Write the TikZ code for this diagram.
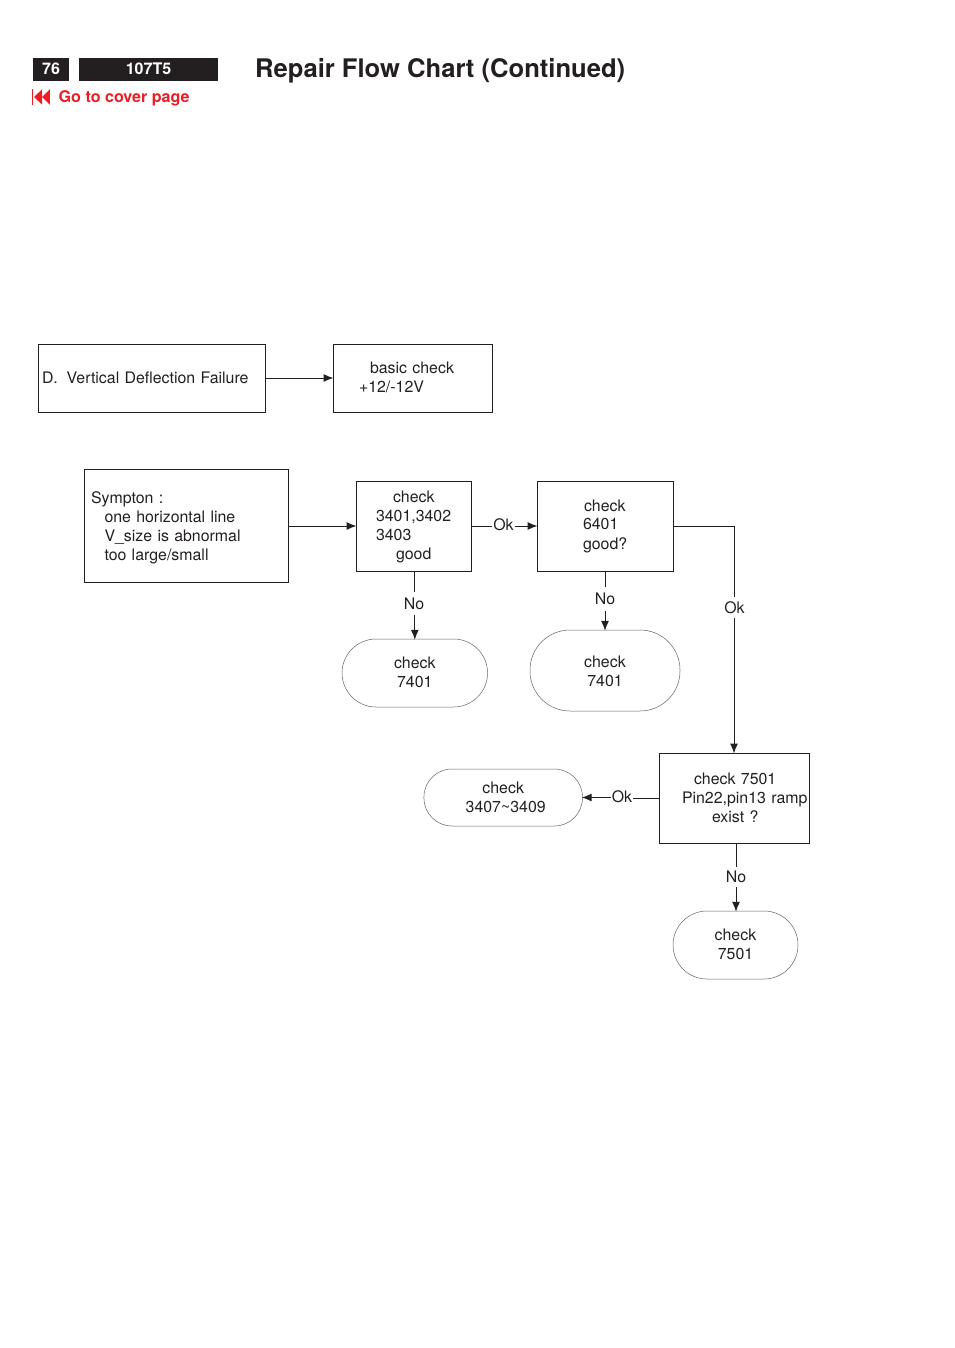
\documentclass[tikz,border=0pt]{standalone}
\usepackage{fontspec}
\setmainfont{TeX Gyre Heros}
\usetikzlibrary{arrows.meta}
\definecolor{ink}{HTML}{231F20}
\definecolor{linkred}{HTML}{ED1C24}
\newcommand{\ind}[1]{\hspace*{#1pt}}
\newcommand{\tallfirst}[1]{\rule{0pt}{#1pt}}
\newcommand{\deeplast}[1]{\rule[-#1pt]{0pt}{#1pt}}
\tikzset{
  flowtext/.style={font=\fontsize{15.9}{19}\selectfont, text=ink},
  boxnode/.style={flowtext, draw=ink, line width=1pt, rectangle, inner sep=0pt, align=left},
  pillnode/.style={flowtext, draw=ink!70, line width=0.5pt, rectangle, inner sep=0pt, align=center},
  edgelabel/.style={flowtext, inner sep=0pt, minimum width=22pt},
  link/.style={draw=ink, line width=1pt},
  arrowlink/.style={link, -{Latex[length=10pt,width=8pt]}, shorten >=-1pt},
  headbar/.style={fill=ink, draw=none, text=white, inner sep=0pt, font=\fontsize{16}{18}\bfseries\selectfont, minimum height=23pt, text height=10pt, text depth=0pt},
}
\begin{document}
\begin{tikzpicture}[x=1pt,y=-1pt]
\useasboundingbox (0,0) rectangle (954,1348);
% header
\node[headbar, minimum width=36pt] (page) at (51,69.5) {76};
\node[headbar, minimum width=139pt] (model) at (148.5,69.5) {107T5};
\node[anchor=base west, inner sep=0pt, text=ink, font=\fontsize{25.6}{30}\bfseries\selectfont] (title) at (255,78) {Repair Flow Chart (Continued)};
\fill[linkred] (31.6,89) rectangle (33.2,105);
\fill[linkred] (34.2,97) -- (42,89.3) -- (42,104.7) -- cycle;
\fill[linkred] (42,97) -- (49.8,89.3) -- (49.8,104.7) -- cycle;
\node[anchor=base west, inner sep=0pt, text=linkred, font=\fontsize{16.1}{19}\bfseries\selectfont] (cover) at (58.5,103) {Go to cover page};
% row 1
\node[boxnode, text width=227pt, minimum height=68pt] (fail) at (151.5,378) {\ind{4}D.\hspace*{8.8pt}Vertical Deflection Failure};
\node[boxnode, text width=159pt, minimum height=68pt] (basic) at (412.5,378) {\ind{37}basic check\\\ind{26}+12/-12V\deeplast{2}};
% row 2
\node[boxnode, text width=204pt, minimum height=113pt] (symp) at (186,525.5) {\tallfirst{16.8}\ind{7}Sympton :\\\ind{20.5}one horizontal line\\\ind{20.5}V\_size is abnormal\\\ind{20.5}too large/small};
\node[boxnode, text width=115pt, minimum height=90pt] (chkA) at (413.5,526) {\tallfirst{13.5}\ind{37}check\\\ind{20}3401,3402\\\ind{20}3403\\\ind{40}good};
\node[boxnode, text width=136pt, minimum height=90pt] (chkB) at (605,526) {\ind{47}check\\[-1pt]\ind{46}6401\\[1pt]\ind{46}good?};
\node[pillnode, minimum width=145.5pt, minimum height=68pt, rounded corners=34pt] (pillA) at (414.8,673) {check\\7401\deeplast{2}};
\node[pillnode, minimum width=150pt, minimum height=81pt, rounded corners=40pt] (pillB) at (605,670.5) {\tallfirst{13.6}check\\7401};
% row 3
\node[boxnode, text width=150pt, minimum height=90pt] (chkC) at (734,798) {\ind{35}check 7501\\\ind{23}\mbox{Pin22,pin13 ramp}\\\ind{53}exist ?};
\node[pillnode, minimum width=158.5pt, minimum height=57pt, rounded corners=28pt] (pillC) at (503.2,797.5) {check\\\hspace*{5pt}3407\textasciitilde 3409};
\node[pillnode, minimum width=125pt, minimum height=68pt, rounded corners=34pt] (pillD) at (735.5,945) {check\\7501\deeplast{2}};
% edge labels
\node[edgelabel, minimum height=23pt] (noA) at (414,603.5) {No};
\node[edgelabel, minimum height=24pt] (noB) at (605,599) {No};
\node[edgelabel, minimum height=20pt] (noC) at (736,877) {No};
\node[edgelabel, minimum height=18pt] (okA) at (503.5,525) {Ok};
\node[edgelabel, minimum height=20pt] (okB) at (734.5,607.5) {Ok};
\node[edgelabel, minimum height=18pt] (okC) at (622,797) {Ok};
% connectors
\draw[arrowlink] (fail.east) -- (basic.west);
\draw[arrowlink] (symp.east |- chkA.west) -- (chkA.west);
\draw[link] (chkA.east) -- (chkA.east -| okA.west);
\draw[arrowlink] (chkB.west -| okA.east) -- (chkB.west);
\draw[link] (chkA.south -| noA) -- (noA.north);
\draw[arrowlink] (noA.south -| pillA.north) -- (pillA.north);
\draw[link] (noB.north |- chkB.south) -- (noB.north);
\draw[arrowlink] (noB.south) -- (pillB.north);
\draw[link] (chkB.east) -| (chkC.north |- okB.north);
\draw[arrowlink] (chkC.north |- okB.south) -- (chkC.north);
\draw[link] (chkC.west) -- (okC.east |- chkC.west);
\draw[arrowlink] (okC.west |- pillC.east) -- (pillC.east);
\draw[link] (noC.north |- chkC.south) -- (noC.north);
\draw[arrowlink] (noC.south) -- (noC.south |- pillD.north);
\end{tikzpicture}
\end{document}
